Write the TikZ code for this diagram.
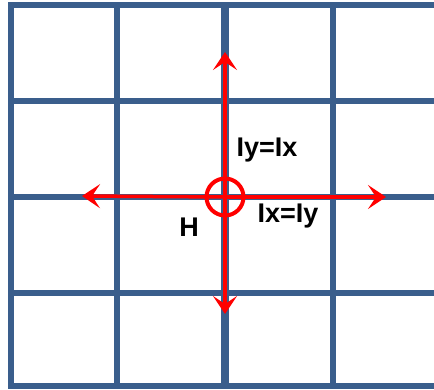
\documentclass[tikz,border=0pt]{standalone}
\usepackage{fontspec}
\setmainfont{Liberation Sans}
\usetikzlibrary{arrows.meta}

\definecolor{gridblue}{HTML}{3A5E8C}

\begin{document}
\begin{tikzpicture}[x=1pt, y=-1pt,
    gridline/.style={draw=gridblue, line width=5.5pt},
    redarrow/.style={draw=red, line width=3.5pt, -{Stealth[length=18pt, width=24pt, inset=8pt]}},
    lbl/.style={font=\fontsize{27}{30}\selectfont\bfseries, inner sep=0pt}]
  \useasboundingbox (0,0) rectangle (434,389);

  % Grid lines
  \foreach \y in {5,101,197,293,386} {
    \draw[gridline] (8,\y) -- (434,\y);
  }
  \foreach \x in {11,117,333} {
    \draw[gridline] (\x,2) -- (\x,389);
  }
  \draw[gridline, line width=8.5pt] (225,2) -- (225,389);

  % Hole and arrows
  \node[circle, draw=red, line width=4pt, minimum size=37pt, inner sep=0pt] (H) at (225,197) {};
  \coordinate (up) at (225,52);
  \coordinate (down) at (225,314);
  \coordinate (left) at (82,196);
  \coordinate (right) at (386,197);
  \draw[redarrow] (H.center) -- (up);
  \draw[redarrow] (H.center) -- (down);
  \draw[redarrow] (H.center) -- (left);
  \draw[redarrow] (H.center) -- (right);

  % Labels
  \node[lbl] (iyix) at (267,150) {Iy=Ix};
  \node[lbl] (ixiy) at (288,216) {Ix=Iy};
  \node[lbl] (hlbl) at (189,227) {H};
\end{tikzpicture}
\end{document}
